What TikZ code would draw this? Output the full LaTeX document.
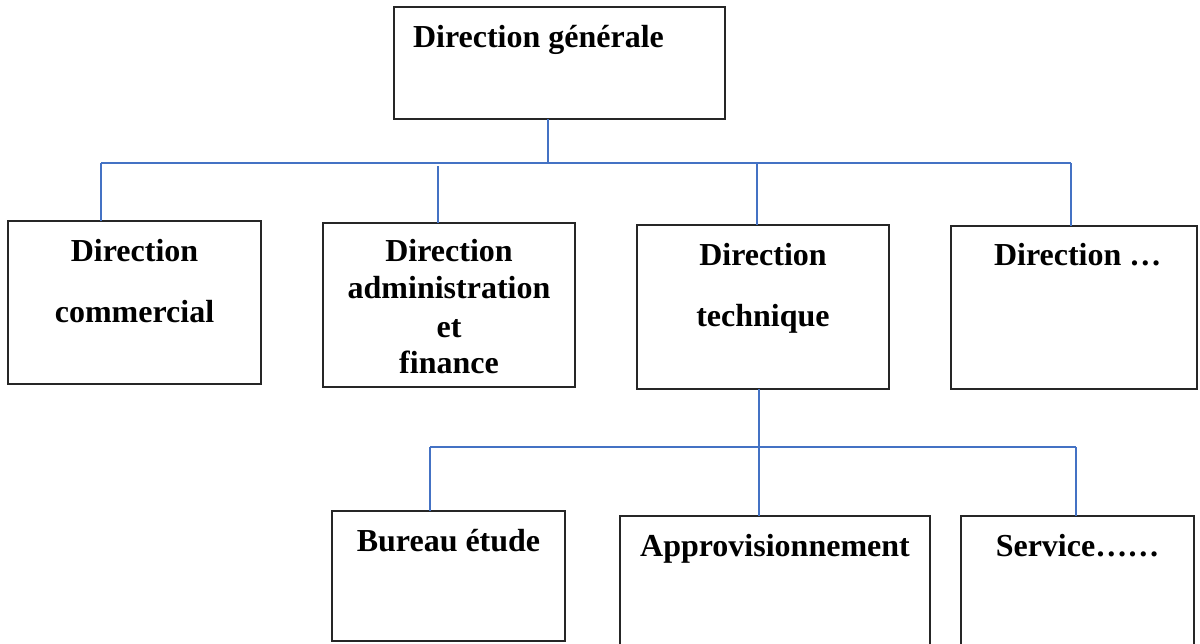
\documentclass[tikz,border=0pt]{standalone}
\usepackage{fontspec}
\setmainfont{Liberation Serif}
\begin{document}
\begin{tikzpicture}[x=0.5pt, y=-0.5pt,
  unit/.style={draw=black!85, line width=0.8pt, inner sep=0pt, outer sep=0pt},
  wh/.style 2 args={minimum width=#1*0.5pt, minimum height=#2*0.5pt},
  lbl/.style={inner sep=0pt, outer sep=0pt, anchor=base,
    font=\fontsize{16}{19}\selectfont\bfseries},
  link/.style={draw=blue!55!cyan!70!black, line width=0.65pt, color={rgb,255:red,68;green,114;blue,196}}]
\path[use as bounding box] (0,0) rectangle (1200,643);
\clip (0,0) rectangle (1200,643);

% top level
\node[unit, wh={331}{112}] (gen) at (559.5,63) {};
\node[lbl, anchor=base west] (genT) at (413,47) {Direction générale};

% directions
\node[unit, wh={253}{163}] (com) at (134.5,302.5) {};
\node[lbl] (comA) at (134.5,261) {Direction};
\node[lbl] (comB) at (134.5,322) {commercial};

\node[unit, wh={252}{164}] (adm) at (449,305) {};
\node[lbl] (admA) at (449,261) {Direction};
\node[lbl] (admB) at (449,298) {administration};
\node[lbl] (admC) at (449,337) {et};
\node[lbl] (admD) at (449,373) {finance};

\node[unit, wh={252}{164}] (tec) at (763,307) {};
\node[lbl] (tecA) at (763,265) {Direction};
\node[lbl] (tecB) at (763,326) {technique};

\node[unit, wh={246}{163}] (oth) at (1074,307.5) {};
\node[lbl, anchor=base west] (othA) at (994,265) {Direction …};

% services of the technical direction
\node[unit, wh={233}{130}] (bur) at (448.5,576) {};
\node[lbl] (burA) at (448.5,551) {Bureau étude};

\node[unit, wh={310}{144}] (app) at (775,588) {};
\node[lbl] (appA) at (775,556) {Approvisionnement};

\node[unit, wh={233}{144}] (ser) at (1077.5,588) {};
\node[lbl] (serA) at (1077.5,556) {Service……};

% upper bus
\coordinate (hub) at (548,163);
\coordinate (busL) at (101,163);
\coordinate (busR) at (1071,163);
\coordinate (dAdm) at (438,166);
\coordinate (dTec) at (757,163);
\draw[link] (hub |- gen.south) -- (hub);
\draw[link] (busL) -- (busR);
\draw[link] (busL) -- (busL |- com.north);
\draw[link] (dAdm) -- (dAdm |- adm.north);
\draw[link] (dTec) -- (dTec |- tec.north);
\draw[link] (busR) -- (busR |- oth.north);

% lower bus
\coordinate (lhub) at (759,447);
\coordinate (lbusL) at (430,447);
\coordinate (lbusR) at (1076,447);
\draw[link] (lhub |- tec.south) -- (lhub |- app.north);
\draw[link] (lbusL) -- (lbusR);
\draw[link] (lbusL) -- (lbusL |- bur.north);
\draw[link] (lbusR) -- (lbusR |- ser.north);
\end{tikzpicture}
\end{document}
